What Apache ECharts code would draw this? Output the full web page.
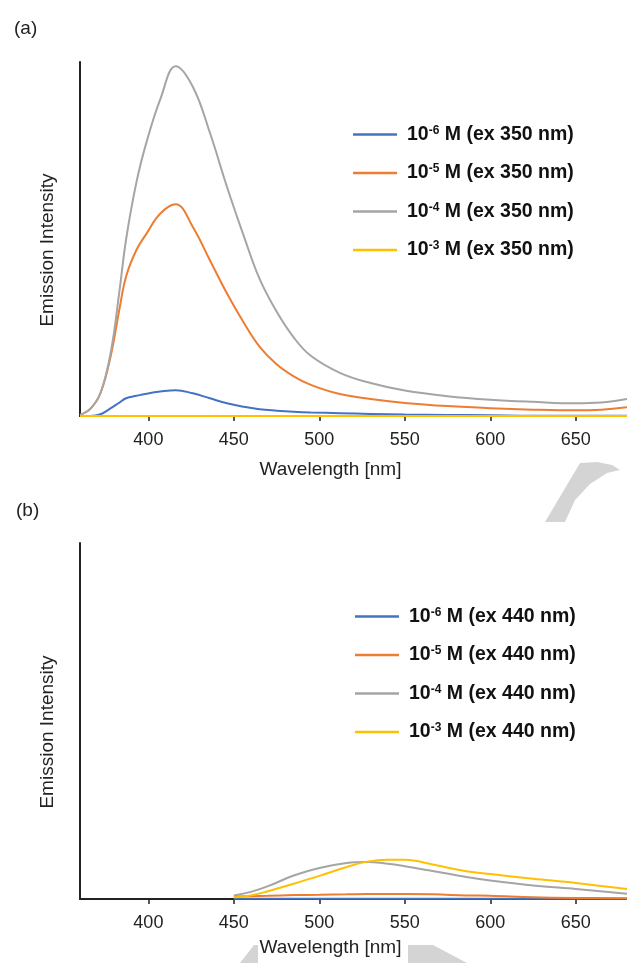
<!DOCTYPE html>
<html><head><meta charset="utf-8">
<script src="https://cdn.jsdelivr.net/npm/echarts@6/dist/echarts.min.js"></script>
<style>html,body{margin:0;padding:0;background:#fff}#c{width:627px;height:963px}</style>
</head><body><div id="c"></div>
<script>
// ---- Panel (a): excitation 350 nm ----
const wlA     = [360, 366, 372, 378, 383, 387, 393, 399, 407, 416, 426, 436, 446, 456, 465, 475, 485, 495, 512, 530, 550, 575, 600, 625, 650, 665, 680];
const blueA   = [0, 0, 0.5, 2.2, 3.8, 5.0, 5.7, 6.3, 6.9, 7.3, 6.4, 5.0, 3.6, 2.6, 1.9, 1.5, 1.2, 1.0, 0.8, 0.6, 0.4, 0.3, 0.2, 0.1, 0.1, 0.1, 0.1];
const orangeA = [0.3, 2, 6.5, 17, 30, 39.5, 46.9, 51.6, 57.2, 59.8, 53.4, 44, 34.6, 26.2, 19.6, 14.6, 11.2, 8.8, 6.2, 4.8, 3.7, 2.8, 2.2, 1.8, 1.6, 1.8, 2.5];
const greyA   = [0.3, 2, 6.5, 18, 35, 50, 66, 77.5, 89.5, 98.8, 93, 80, 64.7, 50.6, 38.8, 29.5, 22.2, 17.0, 12.2, 9.3, 7.2, 5.6, 4.6, 4.0, 3.6, 3.8, 4.8];
const yellowA = [0, 0, 0, 0, 0, 0, 0, 0, 0, 0, 0, 0, 0, 0, 0, 0, 0, 0, 0, 0, 0, 0, 0, 0, 0, 0, 0];

// ---- Panel (b): excitation 440 nm ----
const wlB     = [450, 460, 470, 485, 500, 516, 528, 540, 550, 567, 586, 600, 625, 650, 680];
const blueB   = [0.1, 0.1, 0.1, 0.1, 0.1, 0.1, 0.1, 0.1, 0.1, 0.1, 0.1, 0.1, 0.1, 0.1, 0.1];
const orangeB = [0.7, 0.8, 0.9, 1.1, 1.2, 1.3, 1.4, 1.4, 1.4, 1.3, 1.0, 0.9, 0.5, 0.3, 0.2];
const greyB   = [1.0, 2.0, 3.6, 6.6, 8.7, 10.1, 10.4, 9.9, 9.2, 7.8, 6.2, 5.2, 3.8, 2.8, 1.5];
const yellowB = [0.5, 1.0, 2.2, 4.3, 6.5, 9.0, 10.5, 11.0, 11.0, 9.6, 7.8, 7.0, 5.7, 4.5, 2.8];

const xTicks = [400, 450, 500, 550, 600, 650];
const exponents = ['-6', '-5', '-4', '-3'];
const namesA = exponents.map(e => '10' + e + ' M (ex 350 nm)');
const namesB = exponents.map(e => '10' + e + ' M (ex 440 nm)');
const colors = ['#4472C4', '#ED7D31', '#A5A5A5', '#FFC000'];

const FF = "'Liberation Sans', Arial, Helvetica, sans-serif";
const INK = '#222';

function pairs(wl, v) { return wl.map((w, i) => [w, v[i]]); }

function xAx(gi, nameGap) {
  return {
    type: 'value', gridIndex: gi, min: 360, max: 680,
    name: 'Wavelength [nm]', nameLocation: 'middle', nameGap: nameGap,
    nameTextStyle: { fontSize: 19, color: INK, fontFamily: FF, padding: [0, 46, 0, 0] },
    axisLine: { show: true, onZero: false, lineStyle: { color: INK, width: 2 } },
    axisTick: { show: true, customValues: xTicks, length: 5, lineStyle: { color: INK, width: 1.5 } },
    axisLabel: { customValues: xTicks, fontSize: 18, color: INK, margin: 15, fontFamily: FF },
    splitLine: { show: false }
  };
}
function yAx(gi) {
  return {
    type: 'value', gridIndex: gi, min: 0, max: 100,
    name: 'Emission Intensity', nameLocation: 'middle', nameGap: 23,
    nameTextStyle: { fontSize: 19, color: INK, fontFamily: FF, padding: [0, 22, 0, 0] },
    axisLine: { show: true, lineStyle: { color: INK, width: 2 } },
    axisTick: { show: false }, axisLabel: { show: false }, splitLine: { show: false }
  };
}
const rich = {
  b0: { fontSize: 19.5, fontWeight: 'bold', color: '#111', fontFamily: FF, padding: [0, 0, 0, 5] },
  b: { fontSize: 19.5, fontWeight: 'bold', color: '#111', fontFamily: FF },
  s: { fontSize: 12, fontWeight: 'bold', color: '#111', fontFamily: FF, verticalAlign: 'top', padding: [0, 0, 8, 0] }
};
function fmt(name) {
  const m = name.match(/^10(-\d) M (.*)$/);
  return '{b0|10}{s|' + m[1] + '}{b| M ' + m[2] + '}';
}
function legend(names, left, top) {
  return {
    data: names, left: left, top: top, orient: 'vertical', icon: 'rect',
    itemWidth: 44, itemHeight: 2.5, itemGap: 18.5, formatter: fmt,
    textStyle: { rich: rich }
  };
}
function mkSeries(names, arrs, wl, gi) {
  return names.map((n, i) => ({
    name: n, type: 'line', xAxisIndex: gi, yAxisIndex: gi,
    data: pairs(wl, arrs[i]), symbol: 'none', showSymbol: false, smooth: 0.4,
    color: colors[i], lineStyle: { width: 2, color: colors[i] }, z: 3 + i
  }));
}

const chart = echarts.init(document.getElementById('c'), null, { renderer: 'canvas' });
chart.setOption({
  animation: false,
  backgroundColor: '#fff',
  title: [
    { text: '(a)', left: 9, top: 14, textStyle: { fontSize: 19, fontWeight: 'normal', color: INK, fontFamily: FF } },
    { text: '(b)', left: 11, top: 496, textStyle: { fontSize: 19, fontWeight: 'normal', color: INK, fontFamily: FF } }
  ],
  grid: [
    { left: 80, right: 0, top: 62, height: 354 },
    { left: 80, right: 0, top: 543, height: 356 }
  ],
  xAxis: [xAx(0, 44), xAx(1, 39)],
  yAxis: [yAx(0), yAx(1)],
  legend: [legend(namesA, 348, 119.5), legend(namesB, 350, 601.5)],
  graphic: [
    { type: 'polygon', z: -10, shape: { points: [[580, 463], [597, 462], [612, 465], [620, 470], [607, 473], [590, 484], [575, 500], [565, 522], [545, 522]] }, style: { fill: '#d4d4d4' } },
    { type: 'polygon', z: -10, shape: { points: [[240, 963], [254, 945], [258, 945], [258, 963]] }, style: { fill: '#d4d4d4' } },
    { type: 'polygon', z: -10, shape: { points: [[408, 945], [433, 945], [467, 963], [408, 963]] }, style: { fill: '#d4d4d4' } }
  ],
  series: [].concat(
    mkSeries(namesA, [blueA, orangeA, greyA, yellowA], wlA, 0),
    mkSeries(namesB, [blueB, orangeB, greyB, yellowB], wlB, 1)
  )
});
</script>
</body></html>
